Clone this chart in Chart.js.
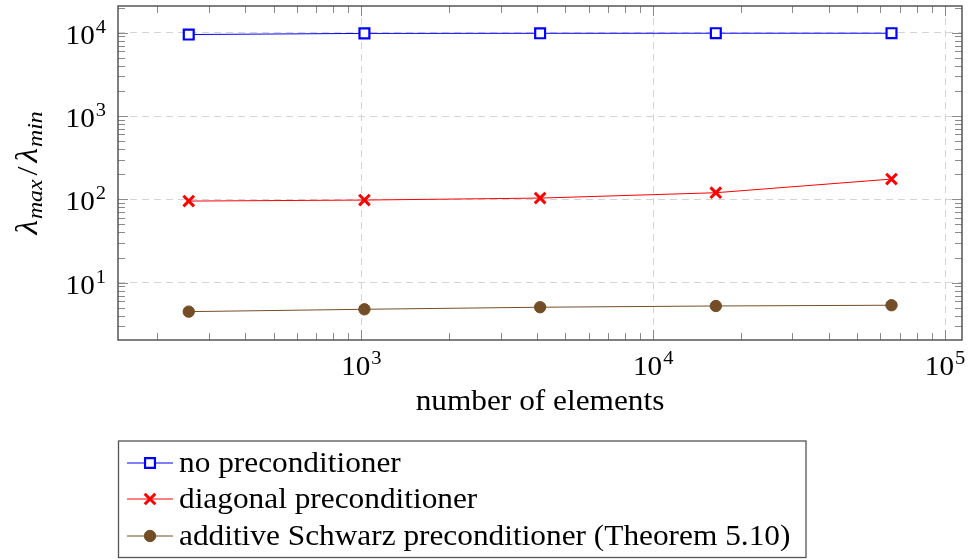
<!DOCTYPE html>
<html>
<head>
<meta charset="utf-8">
<script src="https://cdn.jsdelivr.net/npm/chart.js@4/dist/chart.umd.min.js"></script>
<style>
  html, body { margin: 0; background: #fff; }
</style>
</head>
<body>
<canvas id="chart" width="968" height="560"></canvas>
<script>
// number of elements (x) and condition numbers lambda_max / lambda_min (y)
const elements = [256, 1024, 4096, 16384, 65536];
const noPrecond = [9500, 9800, 9830, 9850, 9850];
const diagPrecond = [95.3, 98, 103.5, 120, 175];
const schwarzPrecond = [4.49, 4.79, 5.07, 5.25, 5.36];
const seriesLabels = [
  'no preconditioner',
  'diagonal preconditioner',
  'additive Schwarz preconditioner (Theorem 5.10)'
];
const xTickExponents = [3, 4, 5];
const yTickExponents = [1, 2, 3, 4];

const SERIF = '"Liberation Serif", "DejaVu Serif", serif';
const BROWN = '#734d26';
const STRETCH = 1.08; // Liberation Serif is narrower than the TeX font

function isPow10(v) {
  if (!v) return false;
  const l = Math.log10(v);
  return Math.abs(l - Math.round(l)) < 1e-6;
}
function isNice(v) {
  const e = Math.floor(Math.log10(v) + 1e-9);
  const s = v / Math.pow(10, e);
  return Math.abs(s - Math.round(s)) < 1e-6;
}

// draw text a little wider; align left / center
function wideText(ctx, text, x, y, font, align) {
  ctx.font = font;
  const w = ctx.measureText(text).width * STRETCH;
  const x0 = align === 'center' ? x - w / 2 : x;
  ctx.save();
  ctx.translate(x0, y);
  ctx.scale(STRETCH, 1);
  ctx.textAlign = 'left';
  ctx.textBaseline = 'alphabetic';
  ctx.fillText(text, 0, 0);
  ctx.restore();
  return w;
}

// superscript label "10^n"
function powLabel(ctx, exp, x, y, align) {
  ctx.font = '27px ' + SERIF;
  const wBase = ctx.measureText('10').width * STRETCH;
  ctx.font = '19px ' + SERIF;
  const wExp = ctx.measureText(String(exp)).width * STRETCH + 1;
  const x0 = align === 'right' ? x - wBase - wExp : x - (wBase + wExp) / 2;
  ctx.fillStyle = '#000';
  wideText(ctx, '10', x0, y, '27px ' + SERIF);
  wideText(ctx, String(exp), x0 + wBase + 1, y - 11, '19px ' + SERIF);
}

const axesPlugin = {
  id: 'pgfAxes',
  beforeDatasetsDraw(chart) {
    const { ctx, chartArea: a, scales } = chart;
    ctx.save();
    // inward tick marks on all four sides
    ctx.strokeStyle = '#8a8a8a';
    ctx.lineWidth = 1;
    ctx.beginPath();
    scales.x.ticks.forEach(t => {
      if (!isNice(t.value)) return;
      const px = Math.round(scales.x.getPixelForValue(t.value)) + 0.5;
      if (px < a.left + 1 || px > a.right - 1) return;
      const len = isPow10(t.value) ? 10 : 7;
      ctx.moveTo(px, a.bottom); ctx.lineTo(px, a.bottom - len);
      ctx.moveTo(px, a.top); ctx.lineTo(px, a.top + len);
    });
    scales.y.ticks.forEach(t => {
      if (!isNice(t.value)) return;
      const py = Math.round(scales.y.getPixelForValue(t.value)) + 0.5;
      if (py < a.top + 1 || py > a.bottom - 1) return;
      const len = isPow10(t.value) ? 10 : 7;
      ctx.moveTo(a.left, py); ctx.lineTo(a.left + len, py);
      ctx.moveTo(a.right, py); ctx.lineTo(a.right - len, py);
    });
    ctx.stroke();
    // frame
    ctx.strokeStyle = '#555';
    ctx.lineWidth = 1.5;
    ctx.strokeRect(a.left, a.top, a.right - a.left, a.bottom - a.top);
    ctx.restore();
  },
  afterDraw(chart) {
    const { ctx, chartArea: a, scales } = chart;
    ctx.save();
    xTickExponents.forEach(e => {
      powLabel(ctx, e, scales.x.getPixelForValue(Math.pow(10, e)), 375, 'center');
    });
    yTickExponents.forEach(e => {
      powLabel(ctx, e, 106, scales.y.getPixelForValue(Math.pow(10, e)) + 11, 'right');
    });

    // x axis title
    ctx.fillStyle = '#000';
    wideText(ctx, 'number of elements', (a.left + a.right) / 2, 410, '29px ' + SERIF, 'center');

    // y axis title: lambda_max / lambda_min
    const parts = [
      { t: 'λ', f: 'italic 31px ' + SERIF, dy: 0, gap: 1 },
      { t: 'max', f: 'italic 22px ' + SERIF, dy: 5, gap: 4 },
      { t: '/', f: '30px ' + SERIF, dy: 0, gap: 4 },
      { t: 'λ', f: 'italic 31px ' + SERIF, dy: 0, gap: 1 },
      { t: 'min', f: 'italic 22px ' + SERIF, dy: 5, gap: 0 }
    ];
    let total = 0;
    parts.forEach(p => { ctx.font = p.f; p.w = ctx.measureText(p.t).width * STRETCH + p.gap; total += p.w; });
    ctx.translate(37, (a.top + a.bottom) / 2);
    ctx.rotate(-Math.PI / 2);
    let x = -total / 2;
    parts.forEach(p => { wideText(ctx, p.t, x, p.dy, p.f); x += p.w; });
    ctx.restore();

    // legend box
    ctx.save();
    ctx.strokeStyle = '#555';
    ctx.lineWidth = 1.3;
    ctx.strokeRect(118.5, 441, 687.5, 116.5);
    const rows = [463, 499, 536];
    chart.data.datasets.forEach((ds, i) => {
      const y = rows[i];
      ctx.strokeStyle = ds.borderColor;
      ctx.lineWidth = ds.borderWidth;
      ctx.beginPath();
      ctx.moveTo(127, y); ctx.lineTo(173, y);
      ctx.stroke();
      ctx.fillStyle = ds.pointBackgroundColor;
      ctx.strokeStyle = ds.pointBorderColor;
      ctx.lineWidth = ds.pointBorderWidth;
      Chart.helpers.drawPoint(ctx, {
        pointStyle: ds.pointStyle, radius: ds.pointRadius, rotation: 0, borderWidth: ds.pointBorderWidth
      }, 150, y);
      ctx.fillStyle = '#000';
      wideText(ctx, ds.label, 179, y + 8.5, '29px ' + SERIF);
    });
    ctx.restore();
  }
};

const gridColor = c => (c.tick && isPow10(c.tick.value)) ? '#d4d4d4' : 'rgba(0,0,0,0)';

new Chart(document.getElementById('chart'), {
  type: 'line',
  data: {
    datasets: [
      {
        label: seriesLabels[0],
        data: elements.map((x, i) => ({ x: x, y: noPrecond[i] })),
        borderColor: '#0000ff',
        borderWidth: 1,
        pointStyle: 'rect',
        pointRadius: 7,
        pointBorderWidth: 2.2,
        pointBorderColor: '#0000ff',
        pointBackgroundColor: '#ffffff'
      },
      {
        label: seriesLabels[1],
        data: elements.map((x, i) => ({ x: x, y: diagPrecond[i] })),
        borderColor: '#ff0000',
        borderWidth: 1,
        pointStyle: 'crossRot',
        pointRadius: 7.5,
        pointBorderWidth: 3,
        pointBorderColor: '#ff0000',
        pointBackgroundColor: '#ff0000'
      },
      {
        label: seriesLabels[2],
        data: elements.map((x, i) => ({ x: x, y: schwarzPrecond[i] })),
        borderColor: BROWN,
        borderWidth: 1,
        pointStyle: 'circle',
        pointRadius: 5.7,
        pointBorderWidth: 1,
        pointBorderColor: BROWN,
        pointBackgroundColor: BROWN
      }
    ]
  },
  options: {
    responsive: false,
    animation: false,
    events: [],
    layout: { autoPadding: false, padding: { left: 0, top: 6, right: 6, bottom: 140 } },
    elements: { line: { tension: 0 } },
    plugins: { legend: { display: false }, tooltip: { enabled: false } },
    scales: {
      x: {
        type: 'logarithmic',
        min: 146.5,
        max: 114300,
        ticks: { display: false },
        grid: { color: gridColor, lineWidth: 1, drawTicks: false },
        border: { display: false, dash: [7, 5] },
        afterFit: s => { s.height = 80; }
      },
      y: {
        type: 'logarithmic',
        min: 2.05,
        max: 20900,
        ticks: { display: false },
        grid: { color: gridColor, lineWidth: 1, drawTicks: false },
        border: { display: false, dash: [7, 5] },
        afterFit: s => { s.width = 118; }
      }
    }
  },
  plugins: [axesPlugin]
});
</script>
</body>
</html>
